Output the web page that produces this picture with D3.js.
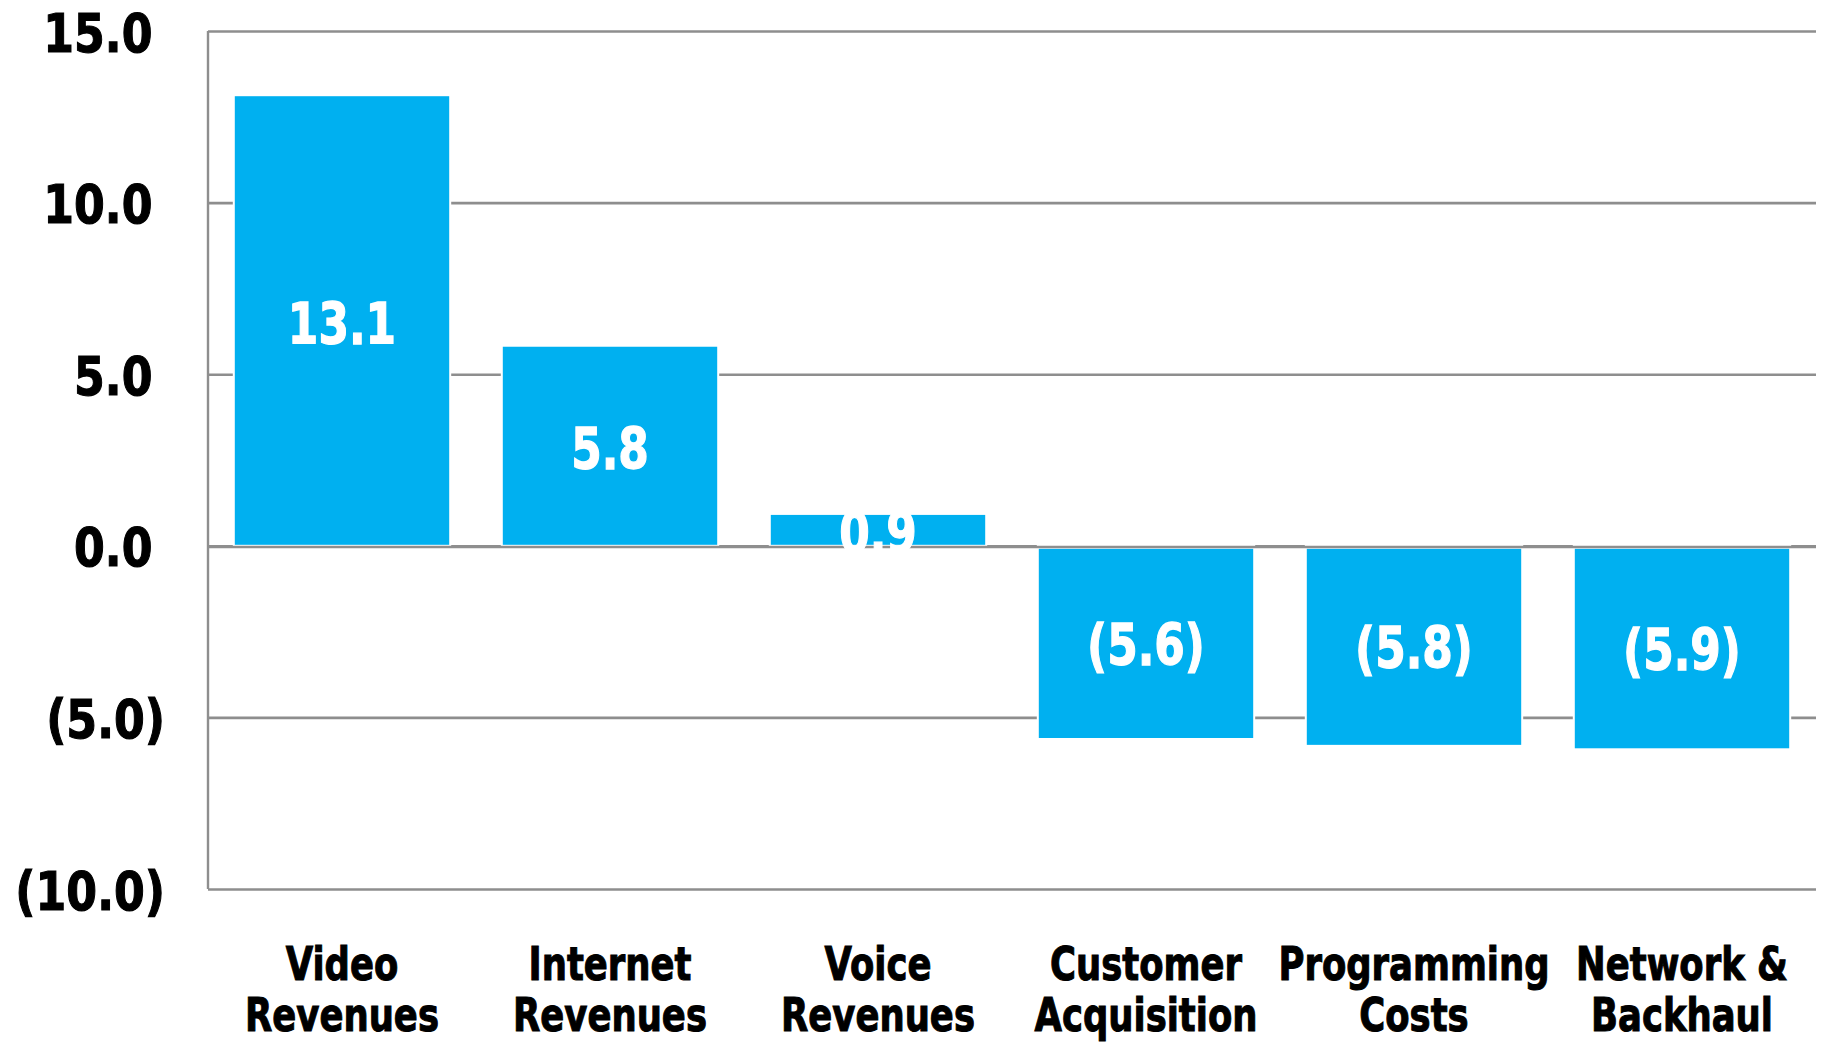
<!DOCTYPE html>
<html>
<head>
<meta charset="utf-8">
<script src="https://cdn.jsdelivr.net/npm/d3@7"></script>
<style>
  html, body { margin: 0; padding: 0; background: #ffffff; }
  svg { display: block; }
  text { font-family: "DejaVu Sans", sans-serif; font-weight: bold; }
</style>
</head>
<body>
<svg id="chart" width="1823" height="1042"></svg>
<script>
// ---- data ----
const categories = ["Video Revenues", "Internet Revenues", "Voice Revenues",
                    "Customer Acquisition", "Programming Costs", "Network & Backhaul"];
const categoryLines = [["Video", "Revenues"], ["Internet", "Revenues"], ["Voice", "Revenues"],
                       ["Customer", "Acquisition"], ["Programming", "Costs"], ["Network &", "Backhaul"]];
const values = [13.1, 5.8, 0.9, -5.6, -5.8, -5.9];
const yTicks = [-10, -5, 0, 5, 10, 15];

// ---- layout ----
const W = 1823, H = 1042;
const margin = { left: 208, right: 7, top: 31, bottom: 153 };
const innerW = W - margin.left - margin.right;
const innerH = H - margin.top - margin.bottom;

const fmt = v => v < 0 ? "(" + Math.abs(v).toFixed(1) + ")" : v.toFixed(1);

const svg = d3.select("#chart");
const g = svg.append("g").attr("transform", `translate(${margin.left},${margin.top})`);

const x = d3.scaleBand().domain(categories).range([0, innerW]).paddingInner(0.2).paddingOuter(0.1);
const y = d3.scaleLinear().domain([-10, 15]).range([innerH, 0]);

const gridColor = "#8e8e8e";

// gridlines
const grid = g.append("g").attr("class", "grid")
  .call(d3.axisLeft(y).tickValues(yTicks).tickSize(-innerW).tickFormat(""));
grid.select(".domain").remove();
grid.selectAll(".tick line").attr("stroke", gridColor).attr("stroke-width", 2.6);

// left axis line
g.append("line")
  .attr("x1", 0).attr("x2", 0).attr("y1", y(15)).attr("y2", y(-10))
  .attr("stroke", gridColor).attr("stroke-width", 2.4);

// bars: white halo then bar
const bars = g.append("g");
bars.selectAll("rect.halo").data(values).join("rect")
  .attr("class", "halo")
  .attr("x", (d, i) => x(categories[i]) - 2)
  .attr("width", x.bandwidth() + 4)
  .attr("y", d => Math.min(y(d), y(0)) - 2)
  .attr("height", d => Math.abs(y(d) - y(0)) + 4)
  .attr("fill", "#ffffff");
bars.selectAll("rect.bar").data(values).join("rect")
  .attr("class", "bar")
  .attr("x", (d, i) => x(categories[i]))
  .attr("width", x.bandwidth())
  .attr("y", d => d >= 0 ? y(d) : y(0) + 3)
  .attr("height", d => d >= 0 ? y(0) - y(d) - 1 : y(d) - y(0) - 3)
  .attr("fill", "#00b0f0");

// zero line on top
g.append("line")
  .attr("x1", 0).attr("x2", innerW).attr("y1", y(0) + 1.2).attr("y2", y(0) + 1.2)
  .attr("stroke", gridColor).attr("stroke-width", 2.6);

// bar value labels
const labFS = 57, labSX = 0.77;
g.append("g").selectAll("text").data(values).join("text")
  .attr("text-anchor", "middle")
  .attr("font-size", labFS)
  .attr("fill", "#ffffff")
  .attr("stroke", "#ffffff")
  .attr("stroke-width", 1.3)
  .attr("transform", (d, i) => {
    const cx = x(categories[i]) + x.bandwidth() / 2;
    const cy = (y(d) + y(0)) / 2 + 2 + 0.364 * labFS;
    return `translate(${cx},${cy}) scale(${labSX},1)`;
  })
  .text(d => fmt(d));

// y axis tick labels
const tickFS = 54, tickSX = 0.82;
const yAxis = g.append("g").attr("class", "yaxis")
  .call(d3.axisLeft(y).tickValues(yTicks).tickSize(0).tickFormat(fmt));
yAxis.select(".domain").remove();
// measure ")" width for the Excel-style trailing padding of positive numbers
const probe = svg.append("text").attr("font-size", tickFS).text(")");
const parenW = probe.node().getComputedTextLength() * tickSX * 0.62;
probe.remove();
const labelRight = 165 - margin.left;
yAxis.selectAll(".tick text")
  .attr("x", 0).attr("dy", null).attr("y", 0)
  .attr("text-anchor", "end")
  .attr("font-size", tickFS)
  .attr("font-family", "DejaVu Sans, sans-serif")
  .attr("fill", "#000000")
  .attr("stroke", "#000000")
  .attr("stroke-width", 1.2)
  .attr("transform", d => `translate(${d < 0 ? labelRight : labelRight - parenW},${0.5 + 0.364 * tickFS}) scale(${tickSX},1)`);

// category labels
const catFS = 46, catSX = 0.77;
const catG = g.append("g");
categoryLines.forEach((lines, i) => {
  const cx = x(categories[i]) + x.bandwidth() / 2;
  lines.forEach((ln, j) => {
    catG.append("text")
      .attr("text-anchor", "middle")
      .attr("font-size", catFS)
      .attr("fill", "#000000")
      .attr("stroke", "#000000")
      .attr("stroke-width", 1.1)
      .attr("transform", `translate(${cx},${innerH + 91 + j * 51}) scale(${catSX},1)`)
      .text(ln);
  });
});
</script>
</body>
</html>
